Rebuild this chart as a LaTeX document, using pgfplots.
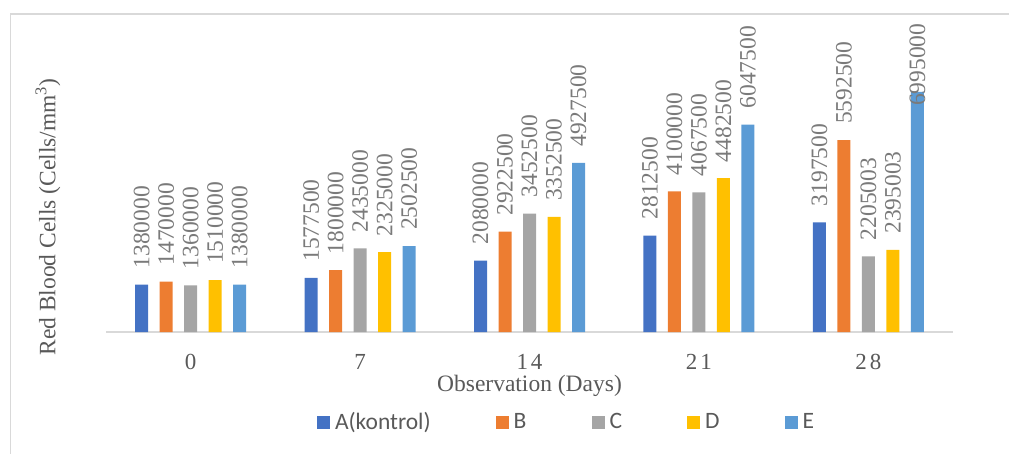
\documentclass[border=0pt]{standalone}
\usepackage{fontspec}
\setmainfont{Liberation Serif}
\newfontfamily\carlito{Carlito}
\usepackage{pgfplots}
\pgfplotsset{compat=1.18}
\definecolor{cA}{HTML}{4472C4}
\definecolor{cB}{HTML}{ED7D31}
\definecolor{cC}{HTML}{A5A5A5}
\definecolor{cD}{HTML}{FFC000}
\definecolor{cE}{HTML}{5B9BD5}
\definecolor{framegray}{HTML}{D9D9D9}
\definecolor{axisgray}{HTML}{D9D9D9}
\definecolor{labelgray}{HTML}{7A7A7A}
\definecolor{textgray}{HTML}{595959}
\pgfplotsset{myleg/.style={legend image code/.code={\fill[##1] (0pt,-6.5pt) rectangle (13pt,6.5pt);}}}
\begin{document}
\begin{tikzpicture}[x=1pt,y=1pt]
\useasboundingbox (0,0) rectangle (1009,453);
\draw[color=framegray, line width=1.5pt] (10.5,-5) -- (10.5,439) -- (1015,439);
\begin{axis}[
  at={(106pt,121pt)}, anchor=south west,
  scale only axis, width=847pt, height=308.8pt,
  xmin=-0.5, xmax=4.5, ymin=0, ymax=9000000,
  ybar=11.5pt, bar width=13pt,
  axis x line*=bottom, axis y line*=left,
  y axis line style={draw=none},
  x axis line style={draw=axisgray, line width=1.5pt},
  ytick=\empty,
  xtick={0,1,2,3,4},
  xticklabels={0,7,1\hspace{3pt}4,2\hspace{3pt}1,2\hspace{3pt}8},
  major tick length=0pt,
  xticklabel style={anchor=center, yshift=-30pt, font=\fontsize{23}{27}\selectfont, text=textgray},
  xlabel={Observation (Days)},
  xlabel style={at={(axis description cs:0.5,-0.174)}, anchor=center, font=\fontsize{23.5}{28}\selectfont, text=textgray},
  ylabel={Red Blood Cells (Cells/mm\textsuperscript{3})},
  ylabel style={at={(axis description cs:-0.0685,0.372)}, anchor=center, font=\fontsize{23.5}{28}\selectfont, text=textgray},
  nodes near coords,
  point meta=explicit symbolic,
  every node near coord/.append style={rotate=90, anchor=west, inner xsep=16pt, inner ysep=0pt, font=\fontsize{23.5}{28}\selectfont, text=labelgray},
  legend style={at={(axis description cs:0.5425,-0.2915)}, anchor=center, draw=none, fill=none,
    font=\carlito\fontsize{23.5}{28}\selectfont, text=textgray, legend columns=5,
    nodes={inner xsep=0pt},
    /tikz/every odd column/.append style={column sep=5pt},
    /tikz/every even column/.append style={column sep=65pt}},
  legend cell align=left,
]
\addplot[fill=cA, draw=none, myleg] coordinates {(0,1380000) [1380000] (1,1577500) [1577500] (2,2080000) [2080000] (3,2812500) [2812500] (4,3197500) [3197500]};
\addplot[fill=cB, draw=none, myleg] coordinates {(0,1470000) [1470000] (1,1800000) [1800000] (2,2922500) [2922500] (3,4100000) [4100000] (4,5592500) [5592500]};
\addplot[fill=cC, draw=none, myleg] coordinates {(0,1360000) [1360000] (1,2435000) [2435000] (2,3452500) [3452500] (3,4067500) [4067500] (4,2205003) [2205003]};
\addplot[fill=cD, draw=none, myleg] coordinates {(0,1510000) [1510000] (1,2325000) [2325000] (2,3352500) [3352500] (3,4482500) [4482500] (4,2395003) [2395003]};
\addplot[fill=cE, draw=none, myleg] coordinates {(0,1380000) [1380000] (1,2502500) [2502500] (2,4927500) [4927500] (3,6047500) [6047500] (4,6995000) [{\hspace*{-30pt}6995000}]};
\legend{A(kontrol),B,C,D,E}
\end{axis}
\end{tikzpicture}
\end{document}
